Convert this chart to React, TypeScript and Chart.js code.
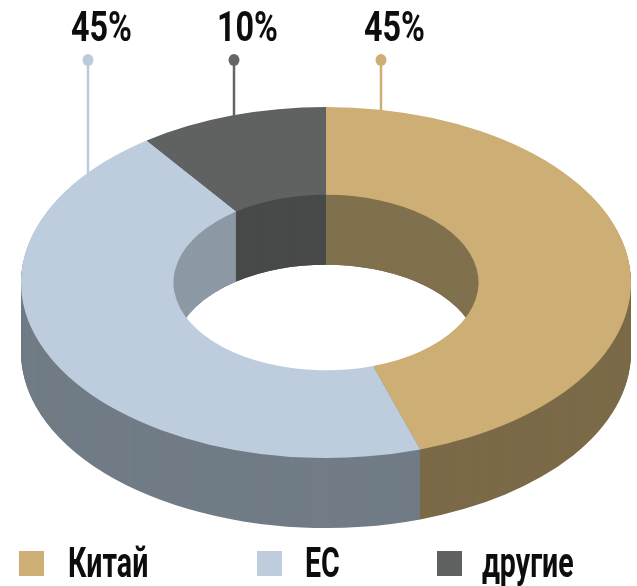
import React, { useEffect, useRef } from "react";
import { Chart, registerables } from "chart.js";

Chart.register(...registerables);

// ---- data ----
const CATEGORIES = ["Китай", "ЕС", "другие"];
const SHARES = [45, 45, 10];

// ---- styles ----
const TOP_COLORS = ["#cdae74", "#bdcddd", "#606261"];
const OUTER_WALL_COLORS = ["#7b6a48", "#717c86", "#4b4d4c"];
const INNER_WALL_COLORS = ["#80714e", "#8d99a5", "#484a49"];
const LINE_COLORS = ["#cdae74", "#bccbdc", "#646665"];
const FONT_FAMILY = "Roboto, 'Liberation Sans', sans-serif";

function condensedText(
  ctx: CanvasRenderingContext2D,
  text: string,
  x: number,
  y: number,
  size: number,
  squeeze: number,
  color: string
) {
  ctx.save();
  ctx.translate(x, y);
  ctx.scale(squeeze, 1);
  ctx.font = `bold ${size}px ${FONT_FAMILY}`;
  ctx.fillStyle = color;
  ctx.textAlign = "left";
  ctx.textBaseline = "alphabetic";
  ctx.fillText(text, 0, 0);
  ctx.restore();
}

const extrudePlugin = {
  id: "extrude3d",
  beforeDatasetsDraw(chart: any, _args: any, opts: any) {
    const arcs = chart.getDatasetMeta(0).data as any[];
    if (!arcs.length) return;
    const a0 = arcs[0];
    const cx = a0.x;
    const cy = a0.y;
    const R = a0.outerRadius;
    const r = a0.innerRadius;
    const sx = chart.chartArea.width / 2 / R;
    const ctx: CanvasRenderingContext2D = chart.ctx;
    ctx.save();
    ctx.translate(cx, cy);
    ctx.scale(sx, 1);
    ctx.translate(-cx, -cy);
    const paint = (colors: string[]) => {
      for (let d = opts.depth; d >= 1; d--) {
        arcs.forEach((arc: any, i: number) => {
          ctx.beginPath();
          ctx.arc(arc.x, arc.y + d, arc.outerRadius, arc.startAngle, arc.endAngle);
          ctx.arc(arc.x, arc.y + d, arc.innerRadius, arc.endAngle, arc.startAngle, true);
          ctx.closePath();
          ctx.fillStyle = colors[i];
          ctx.fill();
        });
      }
    };
    paint(opts.outerColors);
    ctx.save();
    ctx.beginPath();
    ctx.arc(cx, cy, r, 0, Math.PI * 2);
    ctx.clip();
    paint(opts.innerColors);
    ctx.restore();
    // transform stays active for the top faces drawn by Chart.js
  },
  afterDatasetsDraw(chart: any) {
    chart.ctx.restore();
  },
};

const calloutPlugin = {
  id: "callouts",
  afterDraw(chart: any, _args: any, opts: any) {
    const arcs = chart.getDatasetMeta(0).data as any[];
    if (!arcs.length) return;
    const ctx: CanvasRenderingContext2D = chart.ctx;
    const values: number[] = chart.data.datasets[0].data;
    const total = values.reduce((s, v) => s + v, 0);
    const a0 = arcs[0];
    const cx = a0.x;
    const cy = a0.y;
    const R = a0.outerRadius;
    const sx = chart.chartArea.width / 2 / R;
    arcs.forEach((_arc: any, i: number) => {
      const x = opts.xs[i];
      const u = (x - cx) / sx;
      const yEdge = cy - Math.sqrt(Math.max(R * R - u * u, 0));
      ctx.save();
      ctx.strokeStyle = opts.lineColors[i];
      ctx.lineWidth = 2.5;
      ctx.beginPath();
      ctx.moveTo(x, opts.dotY);
      ctx.lineTo(x, yEdge + 1);
      ctx.stroke();
      ctx.fillStyle = opts.lineColors[i];
      ctx.beginPath();
      ctx.ellipse(x, opts.dotY, 5.5, 6, 0, 0, Math.PI * 2);
      ctx.fill();
      ctx.restore();
      const pct = Math.round((values[i] / total) * 100) + "%";
      condensedText(ctx, pct, x - 17, opts.textY, 42, 0.77, "#0d0d0d");
    });
  },
};

const legendPlugin = {
  id: "bottomLegend",
  afterDraw(chart: any, _args: any, opts: any) {
    const ctx: CanvasRenderingContext2D = chart.ctx;
    const labels: string[] = chart.data.labels;
    const colors: string[] = chart.data.datasets[0].backgroundColor;
    labels.forEach((lab, i) => {
      const bx = opts.boxXs[i];
      ctx.fillStyle = colors[i];
      ctx.fillRect(bx, opts.boxY, 25, 25);
      condensedText(ctx, lab, opts.textXs[i], opts.textY, 42, 0.68, "#0d0d0d");
    });
  },
};

export default function App() {
  const canvasRef = useRef<HTMLCanvasElement | null>(null);

  useEffect(() => {
    if (!canvasRef.current) return;
    const chart = new Chart(canvasRef.current, {
      type: "doughnut",
      data: {
        labels: CATEGORIES,
        datasets: [
          {
            data: SHARES,
            backgroundColor: TOP_COLORS,
            borderWidth: 0,
            clip: false as any,
          },
        ],
      },
      options: {
        animation: false,
        responsive: true,
        maintainAspectRatio: false,
        cutout: "50%",
        rotation: 0,
        layout: { padding: { left: 21, right: 6, top: 107, bottom: 128 } },
        events: [],
        plugins: {
          legend: { display: false },
          tooltip: { enabled: false },
          extrude3d: {
            depth: 70,
            outerColors: OUTER_WALL_COLORS,
            innerColors: INNER_WALL_COLORS,
          },
          callouts: {
            xs: [381, 88, 234],
            dotY: 60,
            textY: 41,
            lineColors: LINE_COLORS,
          },
          bottomLegend: {
            boxXs: [19, 257, 437],
            textXs: [68, 305, 482],
            boxY: 551,
            textY: 577,
          },
        } as any,
      },
      plugins: [extrudePlugin, calloutPlugin, legendPlugin],
    });
    return () => chart.destroy();
  }, []);

  return (
    <div
      style={{
        position: "fixed",
        left: 0,
        top: 0,
        width: 637,
        height: 586,
        background: "#fff",
      }}
    >
      <canvas ref={canvasRef} />
    </div>
  );
}
